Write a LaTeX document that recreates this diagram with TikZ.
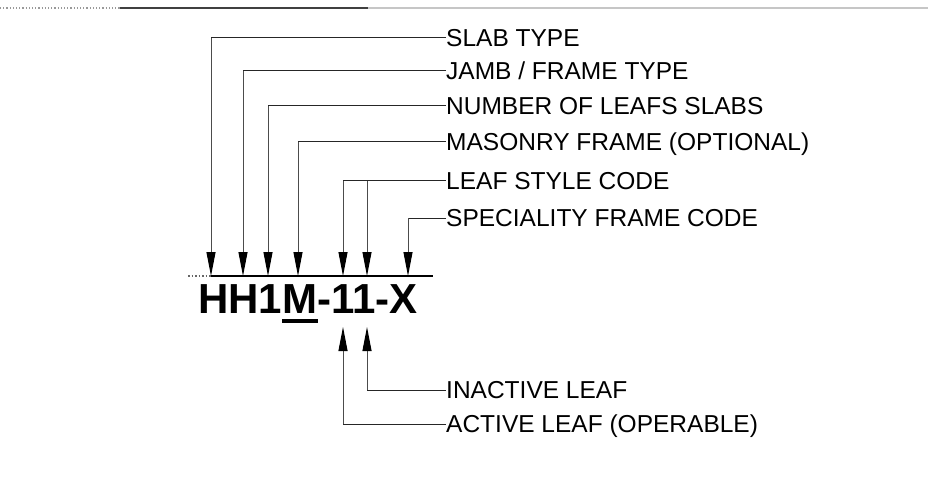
\documentclass[tikz,border=0pt]{standalone}
\usepackage{fontspec}
\setmainfont{Liberation Sans}
\usetikzlibrary{arrows.meta}
\begin{document}
\begin{tikzpicture}[x=1pt,y=-1pt,
  lbl/.style={anchor=base west,inner sep=0pt,font=\fontsize{24.5}{28}\selectfont},
  lead/.style={line width=1pt,draw=black!85},
  pointer/.style={line width=1pt,draw=black!70,-{Triangle[length=24pt,width=9pt,black]}},
  codetext/.style={anchor=base,inner sep=0pt,font=\fontsize{42}{46}\selectfont\bfseries}]
\useasboundingbox (0,0) rectangle (928,489);
% top rule
\draw[gray!80,line width=1.2pt,dotted] (0,8) -- (120,8);
\draw[black!75,line width=1.6pt] (120,8) -- (368,8);
\draw[gray!45,line width=1.6pt] (368,8) -- (928,8);

% labels
\node[lbl] (slab)  at (446,46.8) {SLAB TYPE};
\node[lbl] (jamb)  at (446,79.8) {JAMB / FRAME TYPE};
\node[lbl] (num)   at (446,114.8) {NUMBER OF LEAFS SLABS};
\node[lbl] (mas)   at (446,150.8) {MASONRY FRAME (OPTIONAL)};
\node[lbl] (style) at (446,189.8) {LEAF STYLE CODE};
\node[lbl] (spec)  at (446,226.8) {SPECIALITY FRAME CODE};
\node[lbl] (inact) at (446,398.8) {INACTIVE LEAF};
\node[lbl] (act)   at (446,432.8) {ACTIVE LEAF (OPERABLE)};

% code
\node[codetext] (code) at (308,313) {HH1M-11-X};
\fill (282,319) rectangle (318,323);

% baseline rule
\coordinate (ruleL) at (188,276);
\coordinate (ruleS) at (211,276);
\coordinate (ruleR) at (433,276);
\draw[black!60,line width=1.5pt,dotted] (ruleL) -- (ruleS);
\draw[black,line width=1.8pt] (ruleS) -- (ruleR);

% corner and tip coordinates
\coordinate (c1) at (211,38);  \coordinate (t1) at (211,276);
\coordinate (c2) at (243,71);  \coordinate (t2) at (243,276);
\coordinate (c3) at (268,106); \coordinate (t3) at (268,276);
\coordinate (c4) at (298,142); \coordinate (t4) at (298,276);
\coordinate (c5) at (343,181); \coordinate (t5) at (343,276);
\coordinate (c6) at (367,181); \coordinate (t6) at (367,276);
\coordinate (c7) at (408,218); \coordinate (t7) at (408,276);
\coordinate (b1) at (367,390); \coordinate (u1) at (367,327);
\coordinate (b2) at (343,424); \coordinate (u2) at (343,327);

% leaders
\draw[lead] ([yshift=8.8pt]slab.base west) -- (c1);
\draw[pointer] (c1) -- (t1);
\draw[lead] ([yshift=8.8pt]jamb.base west) -- (c2);
\draw[pointer] (c2) -- (t2);
\draw[lead] ([yshift=8.8pt]num.base west) -- (c3);
\draw[pointer] (c3) -- (t3);
\draw[lead] ([yshift=8.8pt]mas.base west) -- (c4);
\draw[pointer] (c4) -- (t4);
\draw[lead] ([yshift=8.8pt]style.base west) -- (c5);
\draw[pointer] (c5) -- (t5);
\draw[pointer] (c6) -- (t6);
\draw[lead] ([yshift=8.8pt]spec.base west) -- (c7);
\draw[pointer] (c7) -- (t7);
\draw[lead] ([yshift=8.8pt]inact.base west) -- (b1);
\draw[pointer] (b1) -- (u1);
\draw[lead] ([yshift=8.8pt]act.base west) -- (b2);
\draw[pointer] (b2) -- (u2);
\end{tikzpicture}
\end{document}
